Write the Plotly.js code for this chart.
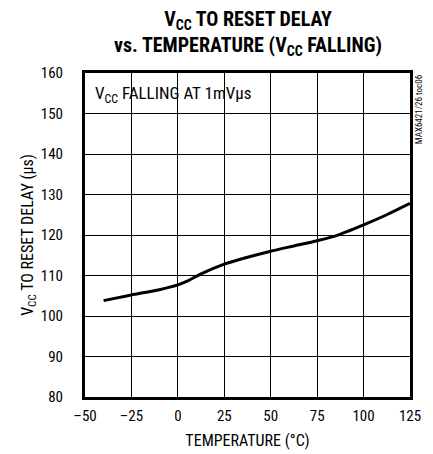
<!DOCTYPE html>
<html><head><meta charset="utf-8">
<script src="https://cdn.plot.ly/plotly-3.0.1.min.js"></script>
<style>body{margin:0;background:#fff}#chart{width:433px;height:454px}</style>
</head><body><div id="chart"></div>
<script>
const temperature = [-40, -25, -10, 0, 5, 12.5, 25, 37.5, 50, 62.5, 75, 85, 100, 112.5, 125];
const delay = [103.8, 105.2, 106.5, 107.7, 108.6, 110.4, 112.8, 114.5, 116.0, 117.3, 118.6, 119.8, 122.5, 125.0, 127.8];
const xTicks = [-50, -25, 0, 25, 50, 75, 100, 125];
const yTicks = [80, 90, 100, 110, 120, 130, 140, 150, 160];

const FONT = '"Liberation Sans Narrow", "Roboto Condensed", "Arial Narrow", "DejaVu Sans Condensed", sans-serif';

const trace = {
  x: temperature, y: delay, type: 'scatter', mode: 'lines',
  line: {color: '#000', width: 3, shape: 'spline', smoothing: 0.7},
  hoverinfo: 'skip'
};

const layout = {
  width: 433, height: 454,
  margin: {l: 85, r: 23, t: 73, b: 57},
  paper_bgcolor: '#fff', plot_bgcolor: '#fff',
  showlegend: false,
  font: {family: FONT, color: '#000', size: 15},
  xaxis: {
    range: [-50, 125], tickvals: xTicks, ticktext: xTicks.map(v => v < 0 ? '\u2013' + Math.abs(v) : String(v)),
    showgrid: true, gridcolor: '#000', gridwidth: 1,
    showline: true, linecolor: '#000', linewidth: 3, mirror: true,
    ticks: '', zeroline: false, tickfont: {size: 15}, ticklabelstandoff: 3,
    title: {text: 'TEMPERATURE (°C)', font: {size: 16}, standoff: 11}
  },
  yaxis: {
    range: [80, 160], tickvals: yTicks,
    showgrid: true, gridcolor: '#000', gridwidth: 1,
    showline: true, linecolor: '#000', linewidth: 3, mirror: true,
    ticks: '', zeroline: false, tickfont: {size: 15}, ticklabelstandoff: 16,
    title: {text: 'V<sub>CC</sub> TO RESET DELAY (µs)', font: {size: 16}, standoff: 4}
  },
  annotations: [
    {text: '<b>V<sub>CC</sub> TO RESET DELAY<br>vs. TEMPERATURE (V<sub>CC</sub> FALLING)</b>',
     xref: 'paper', yref: 'paper', x: 0.5, y: 1, xanchor: 'center', yanchor: 'bottom', yshift: 12,
     showarrow: false, font: {size: 20}},
    {text: 'V<sub>CC</sub> FALLING AT 1mVµs', xref: 'paper', yref: 'paper', x: 0.025, y: 0.975,
     xanchor: 'left', yanchor: 'top', showarrow: false, font: {size: 17}},
    {text: 'MAX6421/26 toc06', xref: 'paper', yref: 'paper', x: 1.005, y: 1.0,
     xanchor: 'left', yanchor: 'top', showarrow: false, textangle: -90, font: {size: 9}}
  ]
};

Plotly.newPlot('chart', [trace], layout, {staticPlot: true, displayModeBar: false});
</script></body></html>
